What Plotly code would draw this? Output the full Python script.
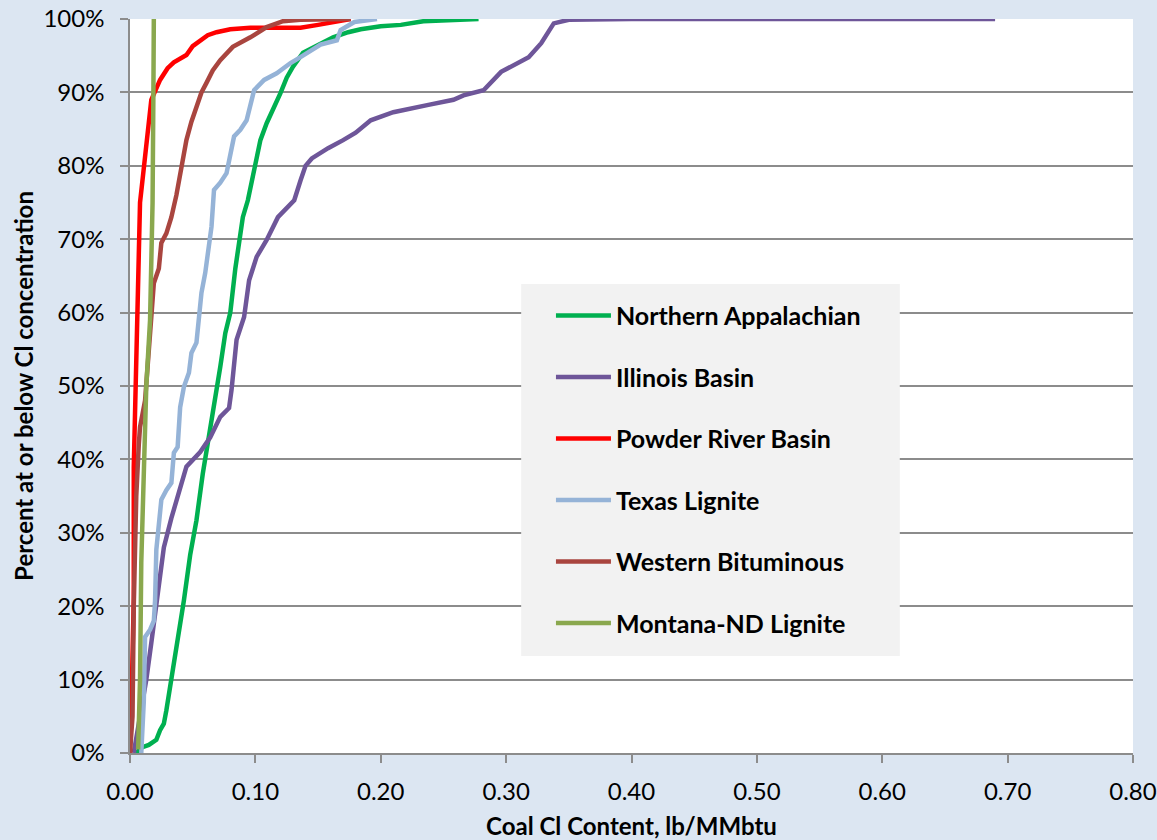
import plotly.graph_objects as go

# ---- data (x: lb/MMbtu, y: cumulative percent) ----
na_x = [0.005, 0.010, 0.015, 0.021, 0.024, 0.027, 0.029, 0.032, 0.036, 0.040, 0.043, 0.048, 0.053, 0.058, 0.064,
        0.068, 0.072, 0.076, 0.080, 0.084, 0.087, 0.090, 0.094, 0.099, 0.104, 0.109, 0.114, 0.120, 0.125, 0.130,
        0.138, 0.152, 0.162, 0.174, 0.184, 0.200, 0.216, 0.234, 0.255, 0.278]
na_y = [0, 0.8, 1.1, 1.8, 3.1, 4.0, 5.8, 9.0, 13, 17, 20.8, 27, 31.7, 38, 44,
        48, 52.6, 57.2, 60, 66, 70, 73, 75.3, 79.8, 83.5, 85.8, 87.6, 89.9, 92, 93.5,
        95.4, 96.7, 97.5, 98.2, 98.6, 99.0, 99.2, 99.7, 99.9, 100]

ib_x = [0.003, 0.006, 0.010, 0.013, 0.017, 0.022, 0.027, 0.033, 0.040, 0.045, 0.056, 0.064, 0.072, 0.079, 0.081,
        0.085, 0.091, 0.095, 0.101, 0.109, 0.118, 0.126, 0.131, 0.136, 0.140, 0.145, 0.158, 0.170, 0.180, 0.192,
        0.210, 0.238, 0.258, 0.266, 0.282, 0.296, 0.318, 0.328, 0.338, 0.350, 0.400, 0.690]
ib_y = [0, 3, 7, 10, 15, 21, 28, 32, 36, 39, 41, 43, 45.8, 47, 49.5,
        56.3, 59.4, 64.4, 67.6, 69.9, 73, 74.5, 75.3, 78, 80, 81, 82.4, 83.5, 84.5, 86.2,
        87.3, 88.3, 89, 89.6, 90.3, 92.8, 94.8, 96.7, 99.4, 99.9, 100, 100]

prb_x = [0.000, 0.000, 0.0016, 0.003, 0.003, 0.005, 0.006, 0.008, 0.0093, 0.011, 0.013, 0.017, 0.024, 0.030,
         0.035, 0.042, 0.045, 0.050, 0.056, 0.062, 0.069, 0.080, 0.096, 0.136, 0.150, 0.176]
prb_y = [0, 2.7, 10, 21, 39, 52.6, 61.7, 75, 77, 79.8, 83.5, 89, 91.7, 93.3,
         94.1, 94.8, 95.1, 96.3, 97.1, 97.8, 98.2, 98.6, 98.8, 98.8, 99.2, 100]

tl_x = [0.009, 0.010, 0.011, 0.012, 0.016, 0.019, 0.020, 0.021, 0.025, 0.029, 0.033, 0.035, 0.038, 0.040, 0.043,
        0.047, 0.049, 0.053, 0.055, 0.057, 0.060, 0.063, 0.065, 0.067, 0.072, 0.077, 0.080, 0.083, 0.088, 0.093,
        0.099, 0.107, 0.117, 0.128, 0.136, 0.152, 0.165, 0.168, 0.179, 0.197]
tl_y = [0, 3, 7, 15.8, 16.8, 18, 20.8, 27.7, 34.5, 35.8, 36.8, 40.9, 41.7, 47.1, 49.9,
        51.8, 54.5, 55.9, 60, 62.7, 65.4, 69.5, 71.7, 76.7, 77.7, 79, 81.2, 84, 84.9, 86.2,
        90.3, 91.7, 92.6, 94, 94.8, 96.5, 97.1, 98.5, 99.6, 100]

wb_x = [0.000, 0.002, 0.003, 0.005, 0.007, 0.008, 0.012, 0.016, 0.019, 0.023, 0.025, 0.029, 0.033, 0.037, 0.041,
        0.045, 0.049, 0.053, 0.057, 0.061, 0.066, 0.072, 0.082, 0.096, 0.109, 0.122, 0.136, 0.176]
wb_y = [0, 5, 20, 35, 42, 44.4, 48, 57, 64, 66, 69.5, 70.8, 73, 76, 80,
        83.5, 86, 88, 90, 91.3, 93, 94.4, 96.2, 97.5, 98.9, 99.7, 99.9, 100]

mnd_x = [0.0065, 0.008, 0.009, 0.011, 0.013, 0.016, 0.017, 0.018, 0.0187, 0.019]
mnd_y = [0.5, 10, 26, 39, 50, 59, 66, 75, 91, 100]

series_names = ["Northern Appalachian", "Illinois Basin", "Powder River Basin",
                "Texas Lignite", "Western Bituminous", "Montana-ND Lignite"]
series_x = [na_x, ib_x, prb_x, tl_x, wb_x, mnd_x]
series_y = [na_y, ib_y, prb_y, tl_y, wb_y, mnd_y]
series_colors = ["#00b050", "#6e5699", "#ff0000", "#95b3d7", "#a9453f", "#8aa84e"]

x_ticks = [0.0, 0.1, 0.2, 0.3, 0.4, 0.5, 0.6, 0.7, 0.8]
x_tick_text = ["0.00", "0.10", "0.20", "0.30", "0.40", "0.50", "0.60", "0.70", "0.80"]
y_ticks = [0, 10, 20, 30, 40, 50, 60, 70, 80, 90, 100]
y_tick_text = ["0%", "10%", "20%", "30%", "40%", "50%", "60%", "70%", "80%", "90%", "100%"]

FONT = "Lato"

fig = go.Figure()
for i, (n, xs, ys, c) in enumerate(zip(series_names, series_x, series_y, series_colors)):
    fig.add_trace(go.Scatter(x=xs, y=ys, name=n, mode="lines",
                             line=dict(color=c, width=4.5), cliponaxis=False,
                             legendgroup="g%d" % i))

# legend background box
fig.add_shape(type="rect", xref="x", yref="y", x0=0.312, x1=0.614, y0=13.2, y1=63.9,
              fillcolor="#f2f2f2", line=dict(width=0), layer="above")

fig.update_layout(
    width=1157, height=840,
    margin=dict(l=130, r=24, t=19, b=87),
    paper_bgcolor="#dce6f2", plot_bgcolor="#ffffff",
    font=dict(family=FONT, size=24, color="#000000"),
    showlegend=True,
    legend=dict(x=0.4197, y=0.627, xanchor="left", yanchor="top",
                bgcolor="rgba(0,0,0,0)", borderwidth=0,
                font=dict(family=FONT, size=25, color="#000000", weight="bold"),
                tracegroupgap=26, itemwidth=55),
    xaxis=dict(range=[0, 0.8], tickvals=x_ticks, ticktext=x_tick_text, automargin=False,
               showgrid=False, zeroline=False, showline=True, linecolor="#8c8c8c", linewidth=1.5,
               ticks="outside", ticklen=8, tickcolor="#8c8c8c", tickwidth=1.5,
               ticklabelstandoff=8, tickfont=dict(size=24),
               title=dict(text="<b>Coal Cl Content, lb/MMbtu</b>", standoff=15,
                          font=dict(family=FONT, size=24))),
    yaxis=dict(range=[0, 100], tickvals=y_ticks, ticktext=y_tick_text, automargin=False,
               showgrid=True, gridcolor="#8c8c8c", gridwidth=1.5, zeroline=False,
               showline=True, linecolor="#8c8c8c", linewidth=1.5,
               ticks="outside", ticklen=8, tickcolor="#8c8c8c", tickwidth=1.5,
               ticklabelstandoff=11, tickfont=dict(size=24),
               title=dict(text="<b>Percent at or below Cl concentration</b>", standoff=3,
                          font=dict(family=FONT, size=24))),
)

fig.write_html("out.html")
